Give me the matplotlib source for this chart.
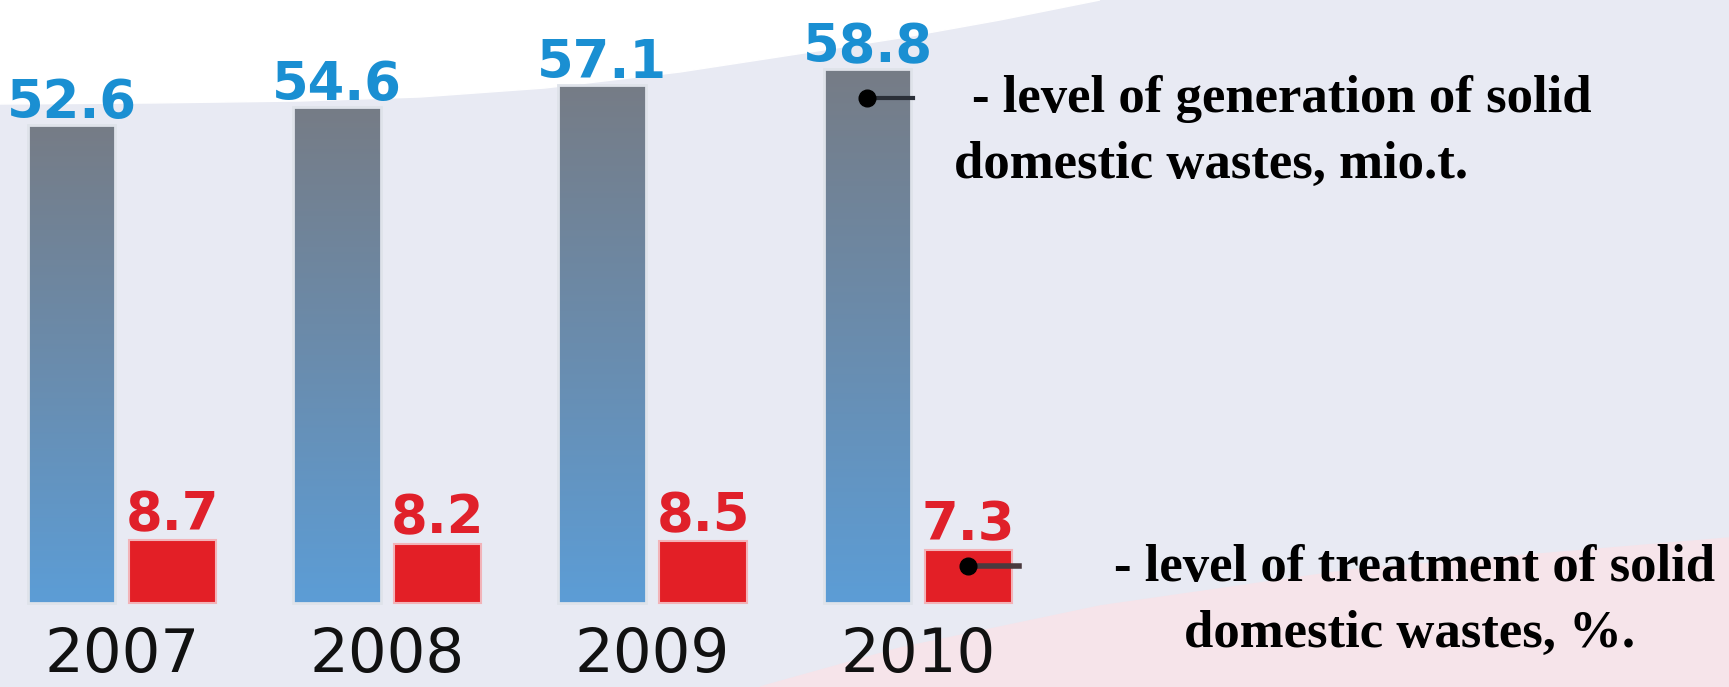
"""
Solid domestic wastes: generation (mio.t.) and treatment level (%), 2007-2010
"""
import numpy as np
import matplotlib.pyplot as plt
from matplotlib.patches import Polygon
from matplotlib.colors import LinearSegmentedColormap

# data
years = ["2007", "2008", "2009", "2010"]
generation = [52.6, 54.6, 57.1, 58.8]   # mio.t.
treatment = [8.7, 8.2, 8.5, 7.3]        # %

W, H = 1729, 687
fig = plt.figure(figsize=(W / 100, H / 100), dpi=100)

# background with white swoosh on top and pink one bottom right
bg = fig.add_axes([0, 0, 1, 1])
bg.set_xlim(0, W)
bg.set_ylim(H, 0)
bg.axis('off')
bg.add_patch(plt.Rectangle((0, 0), W, H, color='#e8eaf3'))
swoosh = [(0, 0), (0, 104), (150, 103), (300, 101), (420, 97), (545, 88),
          (680, 72), (804, 53), (900, 38), (1000, 20), (1100, 0)]
bg.add_patch(Polygon(swoosh, color='white'))
pink = [(760, H), (900, 648), (1100, 606), (1350, 570), (1729, 538), (1729, H)]
bg.add_patch(Polygon(pink, color='#f6e4ea'))

# main axes, 0 of the scale sits at pixel row 603
ax = fig.add_axes([0, 0, 1, 1])
ax.patch.set_alpha(0)
ax.axis('off')
unit = 265.3
x0 = 122
base = 603
gen_px = 9.08   # px per mio.t.
tr_px = 7.25    # px per %
ax.set_xlim(-x0 / unit, (W - x0) / unit)
ax.set_ylim(-(H - base) / gen_px, base / gen_px)

ax2 = ax.twinx()
ax2.axis('off')
ax2.set_ylim(-(H - base) / tr_px, base / tr_px)

x = np.arange(len(years))
off = 0.19
bw = 0.33

cmap = LinearSegmentedColormap.from_list('gb', ['#5c9dd6', '#6a8cad', '#767c86'])
grad = np.linspace(0, 1, 256).reshape(-1, 1)

bars = ax.bar(x - off, generation, width=bw, color='none',
              edgecolor='#dfe3ea', linewidth=2, zorder=3)
for b in bars:
    im = ax.imshow(grad, cmap=cmap, origin='lower', aspect='auto', zorder=2,
                   extent=[b.get_x(), b.get_x() + b.get_width(), 0, b.get_height()])
    im.set_clip_path(b)
ax.set_xlim(-x0 / unit, (W - x0) / unit)
ax.set_ylim(-(H - base) / gen_px, base / gen_px)

ax2.bar(x + off, treatment, width=bw, color='#e31f26',
        edgecolor='#f2b3b8', linewidth=1.5, zorder=3)

num_font = dict(family='DejaVu Sans', fontweight='bold', fontsize=38)
for i in range(len(years)):
    ax.annotate(f"{generation[i]}", (x[i] - off, generation[i]), xytext=(0, 7),
                textcoords='offset pixels', ha='center', va='baseline',
                color='#1a8fd2', **num_font)
    ax2.annotate(f"{treatment[i]}", (x[i] + off, treatment[i]), xytext=(0, 10),
                 textcoords='offset pixels', ha='center', va='baseline',
                 color='#e0202a', **num_font)
    ax.text(x[i], -(672 - base) / gen_px, years[i], ha='center', va='baseline',
            family='DejaVu Sans', fontsize=44, color='#111111')

# pointers into the legend texts
gy = generation[-1] * 0.945
ax.plot([x[-1] - off, x[-1] - off + 0.17], [gy, gy], color='#2a2f38', lw=3, zorder=4)
ax.plot(x[-1] - off, gy, 'o', color='black', ms=12, zorder=5)
ty = treatment[-1] * 0.7
ax2.plot([x[-1] + off, x[-1] + off + 0.19], [ty, ty], color='#4a3a3e', lw=4, zorder=4)
ax2.plot(x[-1] + off, ty, 'o', color='black', ms=12, zorder=5)

leg = dict(family='Liberation Serif', fontweight='bold', fontsize=38,
           color='black', va='baseline', ha='left')
fig.text(972 / W, 1 - 112 / H, "- level of generation of solid", **leg)
fig.text(954 / W, 1 - 178 / H, "domestic wastes, mio.t.", **leg)
fig.text(1114 / W, 1 - 581 / H, "- level of treatment of solid", **leg)
fig.text(1184 / W, 1 - 647 / H, "domestic wastes, %.", **leg)

plt.savefig("out.png", dpi=100)
